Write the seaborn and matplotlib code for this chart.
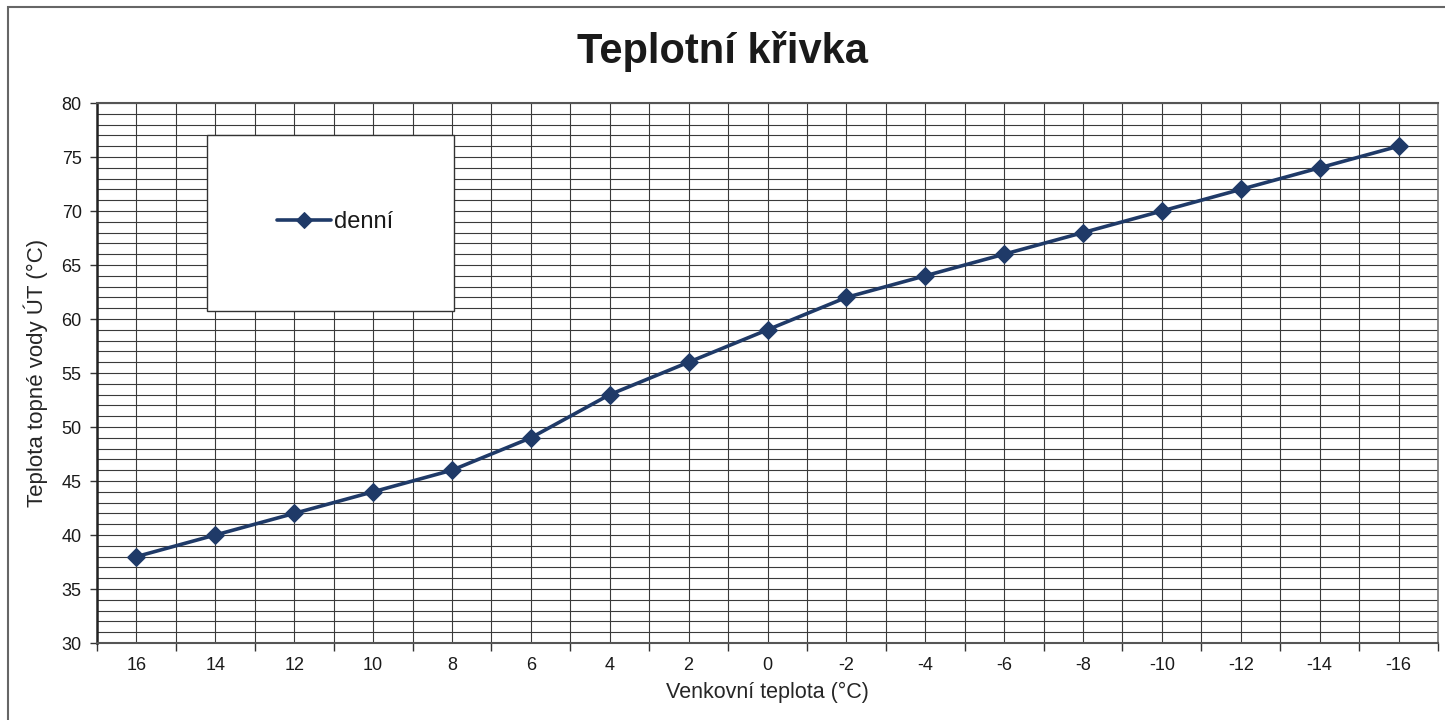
import numpy as np
import pandas as pd
import seaborn as sns
import matplotlib.pyplot as plt
from matplotlib.patches import Rectangle
from matplotlib.ticker import MultipleLocator, FixedLocator

# data
venkovni = ['16', '14', '12', '10', '8', '6', '4', '2', '0',
            '-2', '-4', '-6', '-8', '-10', '-12', '-14', '-16']
denni = [38, 40, 42, 44, 46, 49, 53, 56, 59, 62, 64, 66, 68, 70, 72, 74, 76]

df = pd.DataFrame({'venkovni': venkovni, 'denni': denni})

sns.set_theme(style='white')
plt.rcParams['font.family'] = ['Liberation Sans', 'DejaVu Sans']
plt.rcParams['text.color'] = '#1a1a1a'

fig = plt.figure(figsize=(14.45, 7.2), dpi=100)
ax = fig.add_axes([97/1445, 1 - 643/720, (1438 - 97)/1445, (643 - 103)/720])

line_col = '#1f3a68'
sns.lineplot(data=df, x='venkovni', y='denni', sort=False, marker='D',
             markersize=9, color=line_col, markeredgecolor=line_col,
             linewidth=2.6, label='denní', ax=ax, zorder=5)

n = len(venkovni)
ax.set_xlim(-0.5, n - 0.5)
ax.set_ylim(30, 80)

# mrizka jako v Excelu: svisle na kategoriich i hranicich, vodorovne po 1 °C
ax.yaxis.set_major_locator(MultipleLocator(5))
ax.yaxis.set_minor_locator(MultipleLocator(1))
ax.xaxis.set_minor_locator(FixedLocator(np.arange(-0.5, n, 1.0)))
ax.grid(True, which='both', axis='both', color='#3a3a3a', linewidth=0.8)
ax.set_axisbelow(True)

ax.tick_params(axis='x', which='major', length=0, labelsize=13, pad=10,
               labelcolor='#1a1a1a')
ax.tick_params(axis='x', which='minor', length=6, width=1, color='#333',
               direction='out', bottom=True)
ax.tick_params(axis='y', which='major', length=5, width=1, color='#333',
               direction='out', left=True, labelsize=13, pad=6,
               labelcolor='#1a1a1a')
ax.tick_params(axis='y', which='minor', length=0)

for s in ['top', 'bottom']:
    ax.spines[s].set_color('#555')
    ax.spines[s].set_linestyle((0, (2, 1)))
    ax.spines[s].set_linewidth(1.5)
ax.spines['left'].set_color('#222')
ax.spines['left'].set_linewidth(1.8)
ax.spines['right'].set_color('#777')
ax.spines['right'].set_linewidth(1.2)

ax.set_xlabel('Venkovní teplota (°C)', fontsize=15.5, labelpad=6)
ax.set_ylabel('Teplota topné vody ÚT (°C)', fontsize=16, labelpad=10)

fig.text(0.5, 1 - 52/720, 'Teplotní křivka', ha='center', va='center',
         fontsize=30, fontweight='bold', color='#1a1a1a')

# legenda v bilem ramecku
bx0, bx1 = (207 - 97)/1341, (454 - 97)/1341
by0, by1 = 1 - (311 - 103)/540, 1 - (135 - 103)/540
ax.add_patch(Rectangle((bx0, by0), bx1 - bx0, by1 - by0, transform=ax.transAxes,
                       facecolor='white', edgecolor='#333', linewidth=1.0,
                       zorder=6))
leg = ax.legend(loc='center', bbox_to_anchor=((335 - 97)/1341, 1 - (222 - 103)/540),
                fontsize=17, frameon=False, handlelength=2.3,
                handletextpad=0.15, markerscale=0.85)
leg.set_zorder(7)

# vnejsi ramecek obrazku
fig.patches.append(Rectangle((8/1445, -0.1), 1.2, 0.1 + 1 - 7/720,
                             transform=fig.transFigure, fill=False,
                             edgecolor='#666', linewidth=1.5))

fig.savefig('out.png', dpi=100)
